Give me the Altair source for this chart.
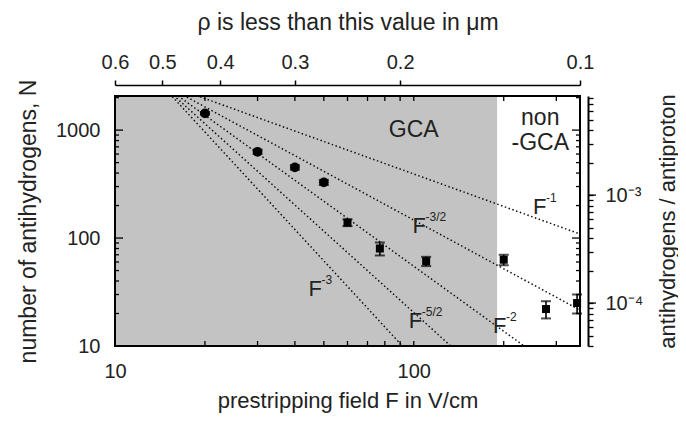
import altair as alt
import pandas as pd

# ---------------- data ----------------
# measured points: prestripping field F (V/cm), number of antihydrogens N, error
F_pts = [20, 30, 40, 50, 60, 77, 110, 200, 277, 352]
N_pts = [1430, 630, 452, 328, 139, 80, 61, 63, 22, 25]
N_err = [40, 30, 22, 18, 10, 11, 6, 7, 4, 5]
marker = ["circle", "circle", "circle", "circle",
          "square", "square", "square", "square", "square", "square"]

# power-law guide lines F^-k: common start point and the point where each leaves the frame
line_names = ["-1", "-3/2", "-2", "-5/2", "-3"]
line_F_start = [14, 14, 14, 14, 14]
line_N_start = [2800, 2800, 2800, 2800, 2800]
line_F_end = [360, 360, 234, 133, 91.6]
line_N_end = [109, 21.5, 10, 10, 10]

# line labels (position of the "F")
lab_F = [250.6, 99, 184, 96.2, 44.4]
lab_N = [193.6, 130.6, 15.2, 16.9, 34]

# GCA region boundary (F)
gca_F = [10, 190]
region_text = ["GCA", "non", "-GCA"]
region_F = [100, 265, 265]
region_N = [1000, 1291, 759]

# axes
F_dom = [10, 360]
N_dom = [10, 2070]
ratio_per_N = 1 / 250000
ratio_dom = [N_dom[0] * ratio_per_N, N_dom[1] * ratio_per_N]
rho_dom = [0.1, 0.6]
rho_ticks = [0.6, 0.5, 0.4, 0.3, 0.2, 0.1]
F_labels = [10, 100]
N_labels = [10, 100, 1000]
F_minor = [20, 30, 40, 50, 60, 70, 80, 90, 100, 200, 300]
N_minor = [20, 30, 40, 50, 60, 70, 80, 90, 200, 300, 400, 500, 600, 700, 800, 900, 2000]
N_major = [100, 1000]
ratio_ticks = [4e-5, 5e-5, 6e-5, 7e-5, 8e-5, 9e-5,
               1e-4, 2e-4, 3e-4, 4e-4, 5e-4, 6e-4, 7e-4, 8e-4, 9e-4,
               1e-3, 2e-3, 3e-3, 4e-3, 5e-3, 6e-3, 7e-3, 8e-3]
ratio_major = [1e-4, 1e-3]

# ---------------- layout / style ----------------
W, H = 465, 250
FONT = "Liberation Sans"
TXT = "#222222"

Fs = alt.Scale(type="log", domain=F_dom, nice=False)
Ns = alt.Scale(type="log", domain=N_dom, nice=False)


def xF(field, axis=None):
    return alt.X(field, type="quantitative", scale=Fs, axis=axis)


def yN(field, axis=None):
    return alt.Y(field, type="quantitative", scale=Ns, axis=axis)


one = pd.DataFrame({"k": [0]})

pts = pd.DataFrame({"F": F_pts, "N": N_pts, "err": N_err, "marker": marker})
pts["lo"] = pts["N"] - pts["err"]
pts["hi"] = pts["N"] + pts["err"]

rows = []
for i, nm in enumerate(line_names):
    rows.append({"name": nm, "F": line_F_start[i], "N": line_N_start[i]})
    rows.append({"name": nm, "F": line_F_end[i], "N": line_N_end[i]})
lines_df = pd.DataFrame(rows)

labs = pd.DataFrame({"F": lab_F, "N": lab_N, "sup": line_names})
regions = pd.DataFrame({"F": region_F, "N": region_N, "t": region_text})

gca = alt.Chart(pd.DataFrame({"F0": [gca_F[0]], "F1": [gca_F[1]]})).mark_rect(
    color="#c3c3c3").encode(x=xF("F0"), x2="F1", y=alt.value(0), y2=alt.value(H))

lines = alt.Chart(lines_df).mark_line(
    color="#111111", strokeWidth=1.5, strokeDash=[1.5, 2.5], clip=True
).encode(x=xF("F"), y=yN("N"), detail="name:N")

err = alt.Chart(pts).mark_rule(color="black", strokeWidth=1.6).encode(
    x=xF("F"), y=yN("lo"), y2="hi")
cap_lo = alt.Chart(pts).mark_tick(orient="horizontal", size=10, thickness=2, color="black").encode(
    x=xF("F"), y=yN("lo"))
cap_hi = alt.Chart(pts).mark_tick(orient="horizontal", size=10, thickness=2, color="black").encode(
    x=xF("F"), y=yN("hi"))

points = alt.Chart(pts).mark_point(filled=True, color="black", opacity=1).encode(
    x=xF("F"), y=yN("N"),
    shape=alt.Shape("marker:N", scale=alt.Scale(domain=["circle", "square"], range=["circle", "square"]), legend=None),
    size=alt.Size("marker:N", scale=alt.Scale(domain=["circle", "square"], range=[95, 64]), legend=None),
)

region_txt = alt.Chart(regions).mark_text(
    font=FONT, fontSize=23, color=TXT, align="center", baseline="middle"
).encode(x=xF("F"), y=yN("N"), text="t:N")

lab_main = alt.Chart(labs).mark_text(
    text="F", font=FONT, fontSize=22, color=TXT, align="left", baseline="middle"
).encode(x=xF("F"), y=yN("N"))
lab_sup = alt.Chart(labs).mark_text(
    font=FONT, fontSize=12, color=TXT, align="left", baseline="middle", dx=13, dy=-9
).encode(x=xF("F"), y=yN("N"), text="sup:N")

# inward ticks on the frame
fm = pd.DataFrame({"F": F_minor})
nm_ = pd.DataFrame({"N": N_minor})
nM = pd.DataFrame({"N": N_major})
tb = alt.Chart(fm).mark_rule(color="black", strokeWidth=1.3).encode(
    x=xF("F"), y=alt.value(H), y2=alt.value(H - 5))
tt = alt.Chart(fm).mark_rule(color="black", strokeWidth=1.3).encode(
    x=xF("F"), y=alt.value(0), y2=alt.value(5))
tl = alt.Chart(nm_).mark_rule(color="black", strokeWidth=1.3).encode(
    y=yN("N"), x=alt.value(0), x2=alt.value(4))
tlM = alt.Chart(nM).mark_rule(color="black", strokeWidth=1.3).encode(
    y=yN("N"), x=alt.value(0), x2=alt.value(8))
tr = alt.Chart(nm_).mark_rule(color="black", strokeWidth=1.3).encode(
    y=yN("N"), x=alt.value(W), x2=alt.value(W - 4))
trM = alt.Chart(nM).mark_rule(color="black", strokeWidth=1.3).encode(
    y=yN("N"), x=alt.value(W), x2=alt.value(W - 8))

frame = alt.Chart(one).mark_rect(fill="transparent", stroke="black", strokeWidth=2).encode(
    x=alt.value(0), x2=alt.value(W), y=alt.value(0), y2=alt.value(H))

# axis carriers
ax_bottom = alt.Chart(pd.DataFrame({"F": F_labels})).mark_point(opacity=0).encode(
    x=xF("F", alt.Axis(orient="bottom", values=F_labels, format="d", ticks=False, tickSize=0,
                       domain=False, labelPadding=15, labelFlush=False, labelOverlap=False,
                       title="prestripping field F in V/cm", titleX=W / 2, titleY=54,
                       titleFontSize=22, titleAlign="center", titleBaseline="middle")))
ax_left = alt.Chart(pd.DataFrame({"N": N_labels})).mark_point(opacity=0).encode(
    y=yN("N", alt.Axis(orient="left", values=N_labels, format="d", ticks=False, tickSize=0,
                       domain=False, labelPadding=15, labelFlush=False, labelOverlap=False,
                       title="number of antihydrogens, N", titleX=-87, titleY=H / 2,
                       titleAlign="center", titleBaseline="middle")))
ax_top = alt.Chart(pd.DataFrame({"rho": rho_ticks})).mark_point(opacity=0).encode(
    x=alt.X("rho:Q", scale=alt.Scale(type="log", domain=rho_dom, reverse=True, nice=False),
            axis=alt.Axis(orient="top", values=rho_ticks, format=".1f", offset=11, tickSize=5,
                          tickWidth=1.5, domainWidth=1.5, labelPadding=8, labelFlush=False,
                          labelOverlap=False, title="ρ is less than this value in μm",
                          titleX=W / 2, titleY=-63, titleAlign="center", titleBaseline="middle")))
rs = alt.Scale(type="log", domain=ratio_dom, nice=False)
ax_right = alt.Chart(pd.DataFrame({"r": ratio_ticks})).mark_point(opacity=0).encode(
    y=alt.Y("r:Q", scale=rs,
            axis=alt.Axis(orient="right", values=ratio_ticks, offset=8, tickSize=5, tickWidth=1.3,
                          domainWidth=2,
                          labelExpr="abs(log(datum.value)/LN10 + 3) < 0.01 ? '10⁻³' : (abs(log(datum.value)/LN10 + 4) < 0.01 ? '10⁻⁴' : '')",
                          labelPadding=12, labelOverlap=False, labelFlush=False,
                          title="antihydrogens / antiproton", titleAngle=270, titleX=79,
                          titleFontSize=22,
                          titleY=H / 2, titleAlign="center", titleBaseline="middle")))
right_major = alt.Chart(pd.DataFrame({"r": ratio_major})).mark_rule(color="black", strokeWidth=1.3).encode(
    y=alt.Y("r:Q", scale=rs, axis=None), x=alt.value(W + 8), x2=alt.value(W + 16))

chart = alt.layer(
    gca, lines, err, cap_lo, cap_hi, points, region_txt, lab_main, lab_sup,
    tb, tt, tl, tlM, tr, trM, frame,
    ax_bottom, ax_left, ax_top, ax_right, right_major,
).resolve_scale(x="independent", y="independent").properties(
    width=W, height=H,
    padding={"left": 107, "top": 88, "right": 98, "bottom": 68},
    autosize=alt.AutoSizeParams(type="none"),
    background="white",
).configure_view(stroke="transparent").configure_axis(
    labelFont=FONT, titleFont=FONT, labelColor=TXT, titleColor=TXT,
    labelFontSize=20, titleFontSize=23, titleFontWeight="normal",
    domainColor="black", tickColor="black", grid=False,
)

chart.save("out.html", embed_options={"renderer": "svg", "actions": False})
